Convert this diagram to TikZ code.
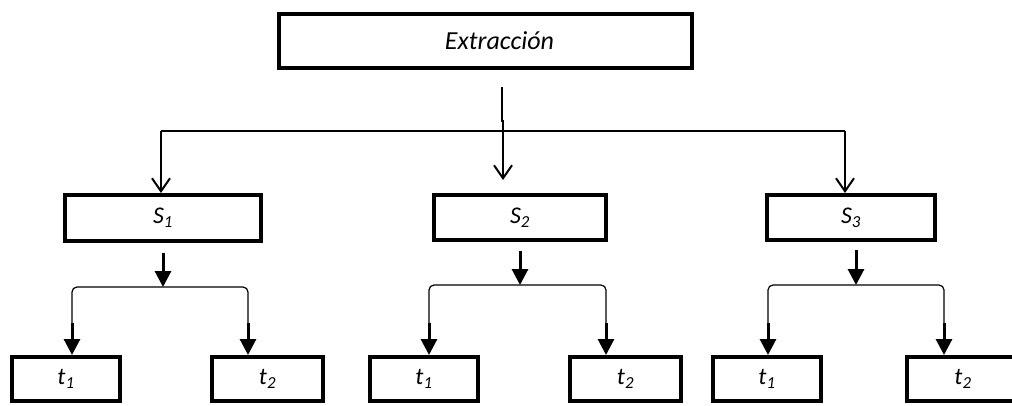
\documentclass[tikz,border=0pt]{standalone}
\usepackage{fontspec}
\setmainfont{Carlito}
\usetikzlibrary{arrows.meta}
\begin{document}
\begin{tikzpicture}[x=1pt,y=-1pt,
  box/.style={draw, line width=4pt, inner sep=0pt, font=\fontsize{24}{28}\selectfont\itshape},
  bus/.style={line width=1.5pt},
  openarrow/.style={line width=2pt, -{Straight Barb[length=13pt,width=18pt,line width=2pt]}},
  solidarrow/.style={line width=3pt, -{Triangle[length=16pt,width=16pt]}},
  fork/.style={line width=1.2pt, rounded corners=5pt}]
\useasboundingbox (0,0) rectangle (1012,405);
\clip (0,0) rectangle (1012,405);

% boxes
\node[box, minimum width=413, minimum height=54, font=\fontsize{26}{30}\selectfont\itshape] (ext) at (485.5,41) {\kern28pt Extracción};

\node[box, minimum width=196, minimum height=46] (s1) at (163,218) {\raisebox{-4pt}{S\textsubscript{1}}};
\node[box, minimum width=172, minimum height=45] (s2) at (520,217.5) {\raisebox{-4pt}{S\textsubscript{2}}};
\node[box, minimum width=168, minimum height=45] (s3) at (851,217.5) {\raisebox{-4pt}{S\textsubscript{3}}};

\node[box, minimum width=108, minimum height=44] (t11) at (66,379) {\raisebox{-3pt}{t\textsubscript{1}}};
\node[box, minimum width=111, minimum height=44] (t12) at (267.5,379) {\raisebox{-3pt}{t\textsubscript{2}}};
\node[box, minimum width=108, minimum height=44] (t21) at (424,379) {\raisebox{-3pt}{t\textsubscript{1}}};
\node[box, minimum width=111, minimum height=44] (t22) at (625.5,379) {\raisebox{-3pt}{t\textsubscript{2}}};
\node[box, minimum width=108, minimum height=44] (t31) at (767,379) {\raisebox{-3pt}{t\textsubscript{1}}};
\node[box, minimum width=112, minimum height=44] (t32) at (963,379) {\raisebox{-3pt}{t\textsubscript{2}}};

% first level: distribution bus
\coordinate (stubtop) at (502,87);
\coordinate (stubbot) at (502,122);
\coordinate (midtop) at (503,120);
\coordinate (busL) at (161,131);
\coordinate (busR) at (845,131);
\draw[line width=2pt] (stubtop) -- (stubbot);
\draw[bus] (busL) -- (busR);
\draw[openarrow] (busL) -- (busL |- s1.north);
\draw[openarrow] (busR) -- (busR |- s3.north);
\draw[openarrow, shorten >=13pt] (midtop) -- (midtop |- s2.north);

% second level: forks under each S box
\coordinate (f1) at (163,287);
\coordinate (k11) at (72,323);
\coordinate (k12) at (248,323);
\draw[solidarrow, shorten <=10pt] (s1.south) -- (f1);
\draw[fork] (k11) |- (f1) -| (k12);
\draw[solidarrow] (k11) -- (k11 |- t11.north);
\draw[solidarrow] (k12) -- (k12 |- t12.north);

\coordinate (f2) at (520,285);
\coordinate (k21) at (429,323);
\coordinate (k22) at (606,323);
\draw[solidarrow, shorten <=9pt] (s2.south) -- (f2);
\draw[fork] (k21) |- (f2) -| (k22);
\draw[solidarrow] (k21) -- (k21 |- t21.north);
\draw[solidarrow] (k22) -- (k22 |- t22.north);

\coordinate (f3) at (856,285);
\coordinate (k31) at (768,323);
\coordinate (k32) at (944,323);
\draw[solidarrow, shorten <=8pt] (s3.south -| f3) -- (f3);
\draw[fork] (k31) |- (f3) -| (k32);
\draw[solidarrow] (k31) -- (k31 |- t31.north);
\draw[solidarrow] (k32) -- (k32 |- t32.north);
\end{tikzpicture}
\end{document}
